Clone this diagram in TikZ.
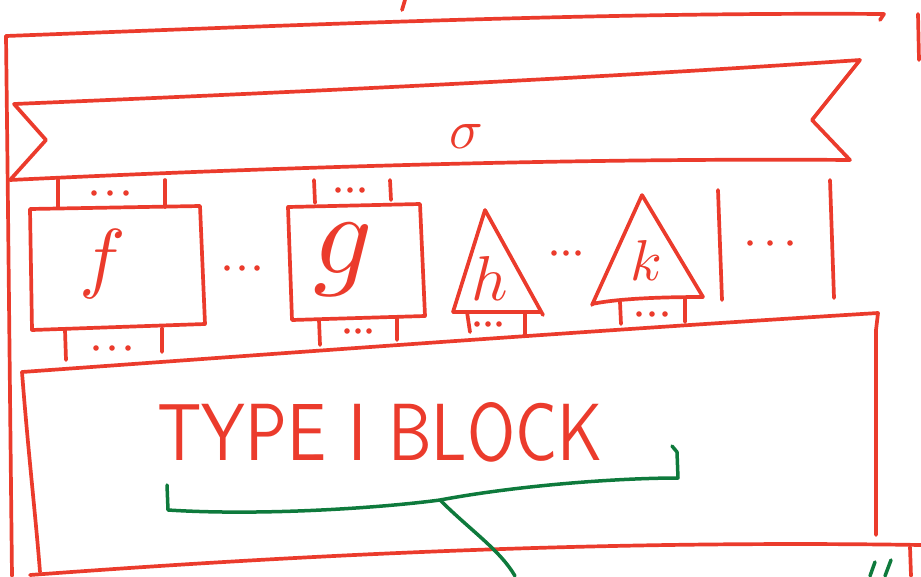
\documentclass[tikz,border=0pt]{standalone}
\usetikzlibrary{calc}
\definecolor{ink}{HTML}{EB3B2C}
\definecolor{gink}{HTML}{0E7A3C}
\tikzset{
  pen/.style={draw=ink,line width=3.7pt,line cap=round,line join=round},
  gpen/.style={draw=gink,line width=3.5pt,line cap=round,line join=round},
  lbl/.style={text=ink,inner sep=0pt},
  dotmark/.style={fill=ink,draw=none}
}
\newcommand{\tridots}[3]{%
  \fill[dotmark] (#1-#3,#2) circle (2.8pt) (#1,#2) circle (2.8pt) (#1+#3,#2) circle (2.8pt);}
\begin{document}
\begin{tikzpicture}[x=1pt,y=-1pt]
\useasboundingbox (0,0) rectangle (921,576);
% outer frame
\draw[pen] (402,10) -- (405,0);
\draw[pen] (6,36) .. controls (300,25) and (600,12) .. (884,14) -- (880,20);
\draw[pen] (6,36) .. controls (8,200) and (10,400) .. (12,576);
\draw[pen] (918,14) -- (919,60);
% banner
\coordinate (bTL) at (14,104);
\coordinate (bTR) at (860,60);
\coordinate (bBR) at (850,160);
\coordinate (bBL) at (10,180);
\draw[pen] (bTL) .. controls (300,92) and (600,78) .. (bTR) -- (812,120) -- (bBR)
  .. controls (600,158) and (300,166) .. (bBL) -- (46,140) -- cycle;
\node[lbl] (sigma) at (466,136) {\resizebox{!}{24pt}{$\sigma$}};
% f box
\draw[pen] (58,180) -- (58,207) (165,180) -- (165,207);
\tridots{110}{193}{16}
\draw[pen] (30,209) -- (200,206) -- (205,324) -- (32,330) -- cycle;
\node[lbl] (f) at (103,264) {\resizebox{!}{54pt}{$f$}};
\draw[pen] (65,330) -- (66,360) (162,328) -- (162,352);
\tridots{112}{348}{16}
\tridots{242}{268}{15}
% g box
\draw[pen] (314,180) -- (315,203) (390,180) -- (391,200);
\tridots{350}{190}{12}
\draw[pen] (288,207) -- (420,204) -- (425,316) -- (292,320) -- cycle;
\node[lbl] (g) at (343,260) {\resizebox{!}{50pt}{$g$}};
\draw[pen] (319,320) -- (320,345) (397,318) -- (397,340);
\tridots{358}{331}{11}
% h triangle
\draw[pen] (485,210) -- (543,315) (453,312) -- (485,210) (453,312) -- (540,312);
\node[lbl] (h) at (490,278) {\resizebox{!}{44pt}{$h$}};
\draw[pen] (467,312) -- (470,332) (525,312) -- (525,335);
\tridots{488}{324}{11}
\tridots{566}{253}{12}
% k triangle
\draw[pen] (642,195) -- (703,297) (592,305) -- (642,195) (592,304) .. controls (620,298) and (670,297) .. (703,297);
\node[lbl] (k) at (646,260) {\resizebox{!}{40pt}{$k$}};
\draw[pen] (620,302) -- (621,324) (685,298) -- (685,322);
\tridots{652}{314}{13}
% open region
\draw[pen] (718,190) -- (722,300);
\draw[pen] (830,180) -- (834,298);
\tridots{770}{243}{20}
% lower block
\coordinate (lTL) at (22,372);
\coordinate (lTR) at (878,313);
\draw[pen] (lTL) .. controls (300,352) and (600,330) .. (lTR) -- (876,330) -- (876,535);
\draw[pen] (lTL) .. controls (28,450) and (36,520) .. (40,572);
\draw[pen] (30,575) .. controls (300,555) and (600,540) .. (921,545);
\draw[pen] (910,547) -- (911,576);
\node[lbl,font=\sffamily] (title) at (380,432) {\resizebox{445pt}{58pt}{TYPE I BLOCK}};
% green brace
\coordinate (gL) at (167,485);
\coordinate (gM) at (440,500);
\coordinate (gR) at (672,446);
\coordinate (gEnd) at (515,576);
\draw[gpen] (gL) -- (168,510) .. controls (260,516) and (380,508) .. (gM)
  .. controls (520,485) and (620,478) .. (678,478) -- (677,452) -- (gR);
\draw[gpen] (gM) .. controls (470,530) and (500,550) .. (gEnd);
\draw[gpen] (870,576) -- (875,562) (885,576) -- (891,560);
\end{tikzpicture}
\end{document}
